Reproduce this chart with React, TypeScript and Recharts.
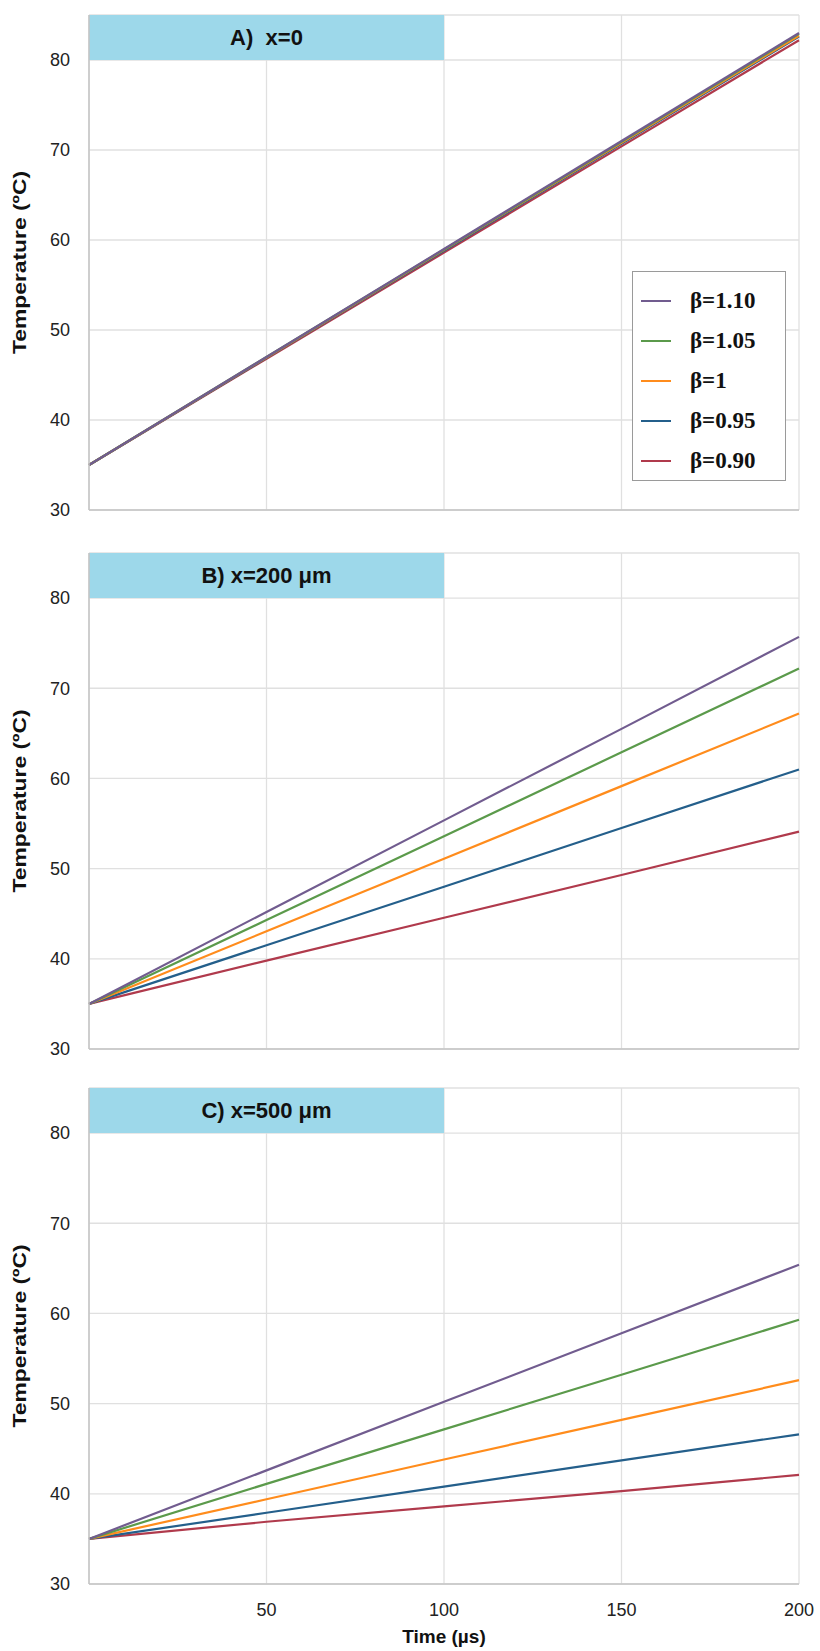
import React from 'react';
import { LineChart, Line, XAxis, YAxis, CartesianGrid, ReferenceArea, Legend } from 'recharts';

const times = [0, 50, 100, 150, 200];
const xTicks = [50, 100, 150, 200];
const yTicks = [30, 40, 50, 60, 70, 80];
const betaNames = ['β=1.10', 'β=1.05', 'β=1', 'β=0.95', 'β=0.90'];
const betaKeys = ['b110', 'b105', 'b100', 'b095', 'b090'];
const betaColors = ['#715c8f', '#5b9a4b', '#ff8c1c', '#245f8b', '#b03a4c'];

// A) x = 0
const a110 = [35, 47.0, 59.0, 71.0, 83.0];
const a105 = [35, 47.0, 58.95, 70.9, 82.9];
const a100 = [35, 46.95, 58.9, 70.8, 82.7];
const a095 = [35, 46.9, 58.8, 70.7, 82.6];
const a090 = [35, 46.8, 58.6, 70.4, 82.2];

// B) x = 200 um
const b110 = [35, 45.2, 55.35, 65.5, 75.7];
const b105 = [35, 44.3, 53.6, 62.9, 72.2];
const b100 = [35, 43.05, 51.1, 59.15, 67.2];
const b095 = [35, 41.5, 48.0, 54.5, 61.0];
const b090 = [35, 39.8, 44.55, 49.3, 54.1];

// C) x = 500 um
const c110 = [35, 42.6, 50.2, 57.8, 65.4];
const c105 = [35, 41.1, 47.15, 53.2, 59.3];
const c100 = [35, 39.4, 43.8, 48.2, 52.6];
const c095 = [35, 37.9, 40.8, 43.7, 46.6];
const c090 = [35, 36.9, 38.6, 40.3, 42.1];

const makeRows = (series: number[][]) =>
  times.map((t, i) => {
    const row: Record<string, number> = { t };
    betaKeys.forEach((k, j) => { row[k] = series[j][i]; });
    return row;
  });

const dataA = makeRows([a110, a105, a100, a095, a090]);
const dataB = makeRows([b110, b105, b100, b095, b090]);
const dataC = makeRows([c110, c105, c100, c095, c090]);

const sans = '"Liberation Sans", Arial, sans-serif';

const YLabel = (props: any) => {
  const vb = props.viewBox || { x: 0, y: 0, width: 0, height: 0 };
  const cx = 19;
  const cy = vb.y + vb.height / 2;
  return (
    <text x={cx} y={cy} transform={`rotate(-90, ${cx}, ${cy})`} textAnchor="middle" dominantBaseline="central"
      fontFamily={sans} fontWeight="bold" fontSize={19} fill="#111" textLength={183} lengthAdjust="spacingAndGlyphs">
      Temperature (ºC)
    </text>
  );
};

const LegendBox = (props: any) => {
  const payload = [...(props.payload || [])].sort(
    (a: any, b: any) => betaNames.indexOf(a.value) - betaNames.indexOf(b.value)
  );
  return (
    <div style={{ width: 154, height: 210, boxSizing: 'border-box', border: '1px solid #9a9a9a', background: '#fff', paddingTop: 9 }}>
      {payload.map((p: any) => (
        <div key={p.value} style={{ height: 40, display: 'flex', alignItems: 'center' }}>
          <div style={{ marginLeft: 8, width: 30, height: 2, background: p.color }} />
          <span style={{ marginLeft: 19, fontFamily: '"Liberation Serif", "Times New Roman", serif', fontWeight: 'bold', fontSize: 23, color: '#111' }}>{p.value}</span>
        </div>
      ))}
    </div>
  );
};

const NoTick = () => <g />;

type PanelProps = {
  data: Record<string, number>[];
  title: string;
  top: number;
  height: number;
  marginTop: number;
  marginBottom: number;
  xHeight: number;
  showLegend?: boolean;
  showX?: boolean;
};

// draw red first so purple ends up on top, like the original
const drawOrder = [4, 3, 2, 1, 0];

const Panel = ({ data, title, top, height, marginTop, marginBottom, xHeight, showLegend, showX }: PanelProps) => (
  <div style={{ position: 'absolute', left: 0, top, width: 820, height }}>
    <LineChart width={820} height={height} data={data} margin={{ top: marginTop, right: 21, bottom: marginBottom, left: 0 }}>
      <CartesianGrid stroke="#e0e0e0" strokeWidth={1.3} />
      <XAxis dataKey="t" type="number" domain={[0, 200]} ticks={xTicks} height={xHeight} interval={0}
        axisLine={{ stroke: '#c4c4c4', strokeWidth: 1.5 }} tickLine={false} tickMargin={13}
        tick={showX ? { fill: '#222', fontSize: 18, fontFamily: sans } : <NoTick />}
        label={showX ? { value: 'Time (µs)', position: 'insideBottom', offset: 1, fill: '#111', fontSize: 19, fontWeight: 'bold', fontFamily: sans } : undefined} />
      <YAxis type="number" domain={[30, 85]} ticks={yTicks} width={89} interval={0}
        axisLine={{ stroke: '#c4c4c4', strokeWidth: 1.5 }} tickLine={false} tickMargin={13}
        tick={{ fill: '#222', fontSize: 18, fontFamily: sans }} label={<YLabel />} />
      <ReferenceArea x1={0} x2={100} y1={80} y2={85} fill="#9dd8ea" fillOpacity={1} stroke="none"
        label={{ value: title, position: 'center', fill: '#111', fontSize: 22, fontWeight: 'bold', fontFamily: sans }} />
      {drawOrder.map((i) => (
        <Line key={betaKeys[i]} type="linear" dataKey={betaKeys[i]} name={betaNames[i]} stroke={betaColors[i]} strokeWidth={2.2}
          dot={false} activeDot={false} isAnimationActive={false} />
      ))}
      {showLegend && (
        <Legend layout="vertical" align="center" verticalAlign="middle" content={<LegendBox />}
          wrapperStyle={{ left: 632, top: 271, width: 154, height: 210 }} />
      )}
    </LineChart>
  </div>
);

const App = () => (
  <div style={{ position: 'absolute', left: 0, top: 0, width: 820, height: 1651, background: '#fff' }}>
    <Panel data={dataA} title={'A)\u00a0\u00a0x=0'} top={0} height={530} marginTop={15} marginBottom={0} xHeight={20} showLegend />
    <Panel data={dataB} title="B) x=200 μm" top={530} height={539} marginTop={23} marginBottom={0} xHeight={20} />
    <Panel data={dataC} title="C) x=500 μm" top={1069} height={582} marginTop={19} marginBottom={7} xHeight={60} showX />
  </div>
);

export default App;
